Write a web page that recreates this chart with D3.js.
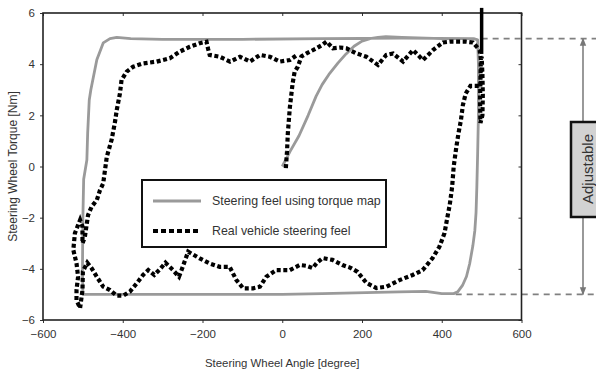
<!DOCTYPE html>
<html>
<head>
<meta charset="utf-8">
<script src="https://cdn.jsdelivr.net/npm/d3@7"></script>
<style>
  body { margin: 0; background: #fff; }
  text { font-family: "Liberation Sans", Arial, sans-serif; fill: #333; }
</style>
</head>
<body>
<div id="chart"></div>
<script>
const width = 596
const height = 372
const margin = {left: 43, right: 74, top: 13, bottom: 52}

// tick values
const xTicks = [-600, -400, -200, 0, 200, 400, 600]
const yTicks = [-6, -4, -2, 0, 2, 4, 6]

// steering feel using torque map (angle [deg], torque [Nm])
const mapAngle = [0, 20, 42, 65, 85, 100, 117, 140, 160, 180, 200, 220, 240, 260, 300, 400, 480, 490, 492, 492, 490, 488, 486, 483, 478, 470, 462, 452, 440, 430, 400, 360, 293, 210, 100, 0, -100, -300, -400, -480, -500, -501, -500, -498, -490, -488, -484, -480, -465, -449, -432, -415, -380, -300, -100, 100, 300, 480]
const mapTorque = [0, 0.6, 1.2, 2.0, 2.75, 3.2, 3.6, 4.05, 4.4, 4.7, 4.9, 5.0, 5.05, 5.08, 5.05, 5.0, 5.0, 4.95, 4.0, 2.0, 0.5, -0.8, -1.8, -2.5, -3.1, -3.8, -4.3, -4.65, -4.9, -4.97, -4.97, -4.88, -4.9, -4.93, -4.97, -5.0, -5.0, -5.0, -5.0, -5.0, -5.0, -4.0, -2.0, -0.5, 0.25, 1.3, 2.6, 3.0, 4.17, 4.83, 5.0, 5.05, 5.0, 4.97, 4.97, 5.0, 5.02, 5.0]

// real vehicle steering feel
const realAngle = [9, 12, 14, 19, 26, 31, 39, 48, 61, 86, 100, 111, 127, 145, 161, 186, 211, 240, 261, 278, 303, 328, 353, 378, 403, 420, 440, 460, 478, 495, 498, 497, 496, 497, 502, 503, 502, 500, 499, 497, 484, 472, 460, 453, 448, 442, 436, 430, 426, 420, 414, 407, 394, 377, 352, 327, 294, 261, 236, 211, 189, 170, 151, 126, 101, 88, 76, 60, 44, 19, -15, -40, -56, -73, -98, -115, -132, -157, -182, -207, -236, -250, -259, -274, -293, -307, -321, -336, -349, -365, -382, -399, -415, -432, -449, -465, -478, -489, -500, -501, -507, -516, -516, -512, -516, -524, -520, -507, -501, -501, -495, -487, -478, -465, -457, -449, -440, -428, -420, -415, -407, -403, -390, -374, -349, -315, -282, -257, -232, -207, -190, -186, -182, -157, -131, -106, -81, -56, -31, -6, 19, 36]
const realTorque = [-0.06, 0.6, 1.3, 2.3, 3.25, 3.7, 3.9, 4.3, 4.42, 4.62, 4.75, 4.88, 4.62, 4.65, 4.62, 4.42, 4.29, 3.97, 4.36, 4.42, 4.1, 4.55, 4.16, 4.55, 4.85, 4.88, 4.88, 4.88, 4.85, 4.55, 4.2, 3.4, 2.6, 1.7, 2.0, 2.8, 3.6, 4.3, 3.6, 3.15, 3.15, 3.15, 2.85, 2.4, 1.8, 1.3, 0.7, 0.0, -0.8, -1.5, -2.0, -2.6, -3.14, -3.58, -4.05, -4.24, -4.44, -4.7, -4.75, -4.55, -4.12, -3.95, -3.85, -3.65, -3.58, -3.75, -3.97, -3.88, -3.85, -4.05, -4.05, -4.31, -4.7, -4.76, -4.76, -4.44, -3.92, -3.92, -3.79, -3.59, -3.33, -3.94, -4.31, -4.05, -3.76, -4.02, -4.24, -4.05, -4.24, -4.57, -4.89, -5.05, -5.05, -4.83, -4.7, -4.31, -3.98, -3.76, -4.1, -4.83, -5.54, -5.22, -4.83, -4.31, -3.78, -3.26, -2.61, -2.09, -2.35, -3.0, -2.75, -1.9, -1.57, -1.31, -0.92, -0.66, 0.38, 1.04, 1.69, 2.21, 2.86, 3.38, 3.71, 3.9, 4.03, 4.1, 4.23, 4.49, 4.68, 4.82, 4.88, 4.6, 4.36, 4.29, 4.1, 4.29, 4.1, 4.36, 4.29, 4.1, 4.16, 4.35]
// fast torque spike at the right end (drawn solid, dots overlap)
const spikeAngle = [500, 500]
const spikeTorque = [4.4, 6.2]

// adjustable limits and where their guide lines start
const limitTorque = [5, -5]
const limitStart = [500, 435]

const mapData = mapAngle.map((a, i) => ({a: a, t: mapTorque[i]}))
const realData = realAngle.map((a, i) => ({a: a, t: realTorque[i]}))
const spikeData = spikeAngle.map((a, i) => ({a: a, t: spikeTorque[i]}))

const svg = d3.select("#chart").append("svg").attr("width", width).attr("height", height)

const x = d3.scaleLinear().domain([-600, 600]).range([margin.left, width - margin.right - 0.5])
const y = d3.scaleLinear().domain([-6, 6]).range([height - margin.bottom, margin.top])

const line = d3.line().x(d => x(d.a)).y(d => y(d.t))

// guide lines for the limits (behind everything)
svg.append("g").selectAll("line").data(limitTorque)
    .join("line")
        .attr("x1", (d, i) => x(limitStart[i]))
        .attr("x2", width)
        .attr("y1", d => y(d))
        .attr("y2", d => y(d))
        .attr("stroke", "#808080")
        .attr("stroke-width", 1.6)
        .attr("stroke-dasharray", "6,5")

// axes
const axisStyle = g => {
    g.select(".domain").remove()
    g.selectAll("line").attr("stroke", "#333")
    g.selectAll("text").attr("font-size", 11.5).attr("fill", "#333").style("font-family", "Liberation Sans, Arial, sans-serif")
}
svg.append("g").attr("transform", `translate(0,${y(-6)})`)
    .call(d3.axisBottom(x).tickValues(xTicks).tickSize(3).tickPadding(7))
    .call(axisStyle)
svg.append("g").attr("transform", `translate(0,${y(6)})`)
    .call(d3.axisBottom(x).tickValues(xTicks).tickSize(3).tickFormat(""))
    .call(axisStyle)
svg.append("g").attr("transform", `translate(${x(-600)},0)`)
    .call(d3.axisLeft(y).tickValues(yTicks).tickSize(3).tickPadding(5))
    .call(axisStyle)
svg.append("g").attr("transform", `translate(${x(600)},0)`)
    .call(d3.axisLeft(y).tickValues(yTicks).tickSize(3).tickFormat(""))
    .call(axisStyle)

// frame
svg.append("rect")
    .attr("x", x(-600)).attr("y", y(6))
    .attr("width", x(600) - x(-600)).attr("height", y(-6) - y(6))
    .attr("fill", "none").attr("stroke", "#222").attr("stroke-width", 1.6)

// series
svg.append("path").datum(mapData)
    .attr("d", line)
    .attr("fill", "none")
    .attr("stroke", "#9a9a9a")
    .attr("stroke-width", 2.8)
    .attr("stroke-linejoin", "round")

svg.append("path").datum(realData)
    .attr("d", line)
    .attr("fill", "none")
    .attr("stroke", "#000")
    .attr("stroke-width", 4.2)
    .attr("stroke-dasharray", "4,2.6")

svg.append("path").datum(spikeData)
    .attr("d", line)
    .attr("fill", "none")
    .attr("stroke", "#000")
    .attr("stroke-width", 3.5)

// axis titles
svg.append("text")
    .attr("x", x(0)).attr("y", 367)
    .attr("text-anchor", "middle").attr("font-size", 11.4)
    .text("Steering Wheel Angle [degree]")
svg.append("text")
    .attr("transform", `translate(17,${y(0)}) rotate(-90)`)
    .attr("text-anchor", "middle").attr("font-size", 12)
    .text("Steering Wheel Torque [Nm]")

// legend
const legend = svg.append("g").attr("transform", "translate(142,180)")
legend.append("rect")
    .attr("width", 244).attr("height", 67)
    .attr("fill", "#fff").attr("stroke", "#111").attr("stroke-width", 2)
legend.append("line")
    .attr("x1", 11).attr("x2", 59).attr("y1", 21).attr("y2", 21)
    .attr("stroke", "#9a9a9a").attr("stroke-width", 2.8)
legend.append("text").attr("x", 70).attr("y", 25).attr("font-size", 12.4)
    .text("Steering feel using torque map")
legend.append("line")
    .attr("x1", 11).attr("x2", 59).attr("y1", 51).attr("y2", 51)
    .attr("stroke", "#000").attr("stroke-width", 4.2).attr("stroke-dasharray", "5,3")
legend.append("text").attr("x", 70).attr("y", 55).attr("font-size", 12.4)
    .text("Real vehicle steering feel")

// "Adjustable" double arrow with label box
const ax = 583
const defs = svg.append("defs")
defs.append("marker").attr("id", "head")
    .attr("viewBox", "0 0 10 10").attr("refX", 9).attr("refY", 5)
    .attr("markerWidth", 5).attr("markerHeight", 5).attr("orient", "auto-start-reverse")
    .append("path").attr("d", "M0,1 L10,5 L0,9 Z").attr("fill", "#777")
svg.append("line")
    .attr("x1", ax).attr("x2", ax)
    .attr("y1", y(limitTorque[0])).attr("y2", y(limitTorque[1]))
    .attr("stroke", "#808080").attr("stroke-width", 1.6)
    .attr("marker-start", "url(#head)").attr("marker-end", "url(#head)")
svg.append("rect")
    .attr("x", 571).attr("y", 122).attr("width", 40).attr("height", 95)
    .attr("fill", "#d2d2d2").attr("stroke", "#111").attr("stroke-width", 2.5)
svg.append("text")
    .attr("transform", "translate(593,169) rotate(-90)")
    .attr("text-anchor", "middle").attr("font-size", 15)
    .text("Adjustable")
</script>
</body>
</html>
